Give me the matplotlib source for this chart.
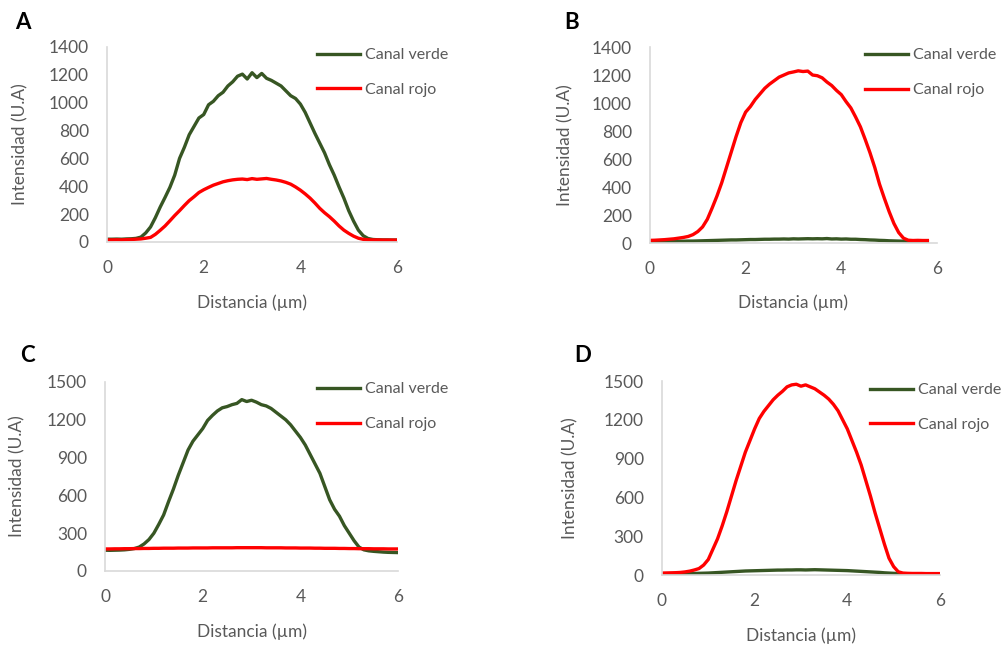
import numpy as np
import matplotlib
matplotlib.use("Agg")
import matplotlib.pyplot as plt

plt.rcParams["font.family"] = ["Lato", "DejaVu Sans"]

# distance axis (µm), sampled every 0.1
X_FULL = np.round(np.arange(0, 61) * 0.1, 1)
X_B = np.round(np.arange(0, 59) * 0.1, 1)

# panel A
a_verde = [20, 20, 21, 20, 22, 23, 26, 35, 65, 108,
           175, 251, 320, 392, 480, 600, 680, 770, 830, 890,
           915, 985, 1010, 1050, 1075, 1120, 1150, 1190, 1205, 1170,
           1215, 1180, 1210, 1175, 1160, 1140, 1120, 1085, 1050, 1030,
           990, 930, 855, 780, 710, 640, 555, 480, 395, 315,
           225, 150, 85, 45, 25, 18, 16, 15, 15, 14, 14]
a_rojo = [15, 15, 16, 15, 17, 18, 20, 22, 27, 33,
          55, 84, 115, 152, 190, 225, 262, 297, 325, 355,
          375, 392, 408, 420, 432, 440, 446, 450, 452, 448,
          455, 450, 453, 456, 450, 445, 438, 428, 415, 395,
          372, 345, 315, 280, 242, 210, 182, 150, 115, 85,
          62, 42, 27, 19, 16, 15, 15, 14, 14, 14, 14]

# panel B (profile ends at 5.8 µm)
b_verde = [10, 10, 11, 11, 12, 12, 13, 13, 14, 14,
           15, 16, 17, 18, 19, 20, 21, 22, 22, 23,
           24, 25, 25, 26, 27, 27, 28, 28, 29, 28,
           30, 29, 30, 31, 30, 31, 30, 32, 29, 30,
           28, 29, 27, 27, 25, 24, 22, 21, 19, 18,
           16, 15, 14, 13, 12, 12, 11, 11, 10]
b_rojo = [19, 20, 22, 24, 27, 30, 35, 40, 47, 60,
          82, 115, 170, 250, 335, 430, 540, 650, 760, 860,
          935, 975, 1025, 1065, 1105, 1135, 1160, 1185, 1200, 1215,
          1222, 1230, 1225, 1228, 1200, 1195, 1180, 1150, 1125, 1090,
          1060, 1010, 965, 900, 830, 740, 645, 540, 420, 320,
          225, 140, 75, 35, 20, 18, 19, 18, 18]

# panel C
c_verde = [165, 164, 165, 166, 168, 172, 178, 190, 215, 250,
           300, 370, 445, 550, 650, 760, 860, 960, 1030, 1080,
           1130, 1195, 1235, 1270, 1295, 1305, 1320, 1330, 1360, 1345,
           1355, 1340, 1320, 1310, 1290, 1260, 1230, 1200, 1160, 1110,
           1060, 1000, 925, 850, 775, 670, 565, 490, 435, 360,
           300, 240, 190, 168, 160, 156, 153, 150, 148, 147, 146]
c_rojo = [175, 175, 176, 176, 177, 177, 178, 178, 179, 179,
          180, 180, 181, 181, 181, 182, 182, 182, 183, 183,
          183, 183, 184, 184, 184, 184, 184, 185, 185, 185,
          185, 185, 185, 184, 184, 184, 184, 183, 183, 183,
          182, 182, 182, 181, 181, 180, 180, 180, 179, 179,
          178, 178, 177, 177, 177, 176, 176, 176, 175, 175, 175]

# panel D
d_verde = [8, 8, 9, 9, 10, 10, 11, 12, 13, 14,
           15, 17, 19, 21, 23, 25, 27, 29, 31, 32,
           33, 34, 35, 36, 37, 38, 38, 39, 39, 40,
           40, 39, 40, 41, 40, 39, 38, 37, 36, 35,
           34, 32, 30, 28, 26, 24, 22, 20, 17, 15,
           13, 11, 10, 9, 9, 8, 8, 8, 8, 8, 8]
d_rojo = [15, 16, 17, 18, 20, 24, 30, 39, 50, 77,
          120, 200, 280, 380, 490, 610, 730, 840, 950, 1040,
          1130, 1210, 1265, 1310, 1355, 1390, 1420, 1455, 1470, 1475,
          1460, 1470, 1455, 1440, 1415, 1390, 1360, 1320, 1270, 1200,
          1130, 1040, 950, 850, 730, 610, 480, 360, 240, 130,
          65, 25, 15, 13, 12, 12, 12, 11, 11, 11, 11]

PANELS = [
    # letter, x, verde, rojo, ymax, ystep, rect, legend anchor, ylabel x, xlabel y, letter pos
    ("A", X_FULL, a_verde, a_rojo, 1400, 200, [0.1062, 0.6254, 0.2877, 0.3019], (0.724, 0.995), -0.272, -0.267, (0.015, 0.965)),
    ("B", X_B, b_verde, b_rojo, 1400, 200, [0.6448, 0.6238, 0.2847, 0.3034], (0.749, 0.995), -0.268, -0.26, (0.56, 0.965)),
    ("C", X_FULL, c_verde, c_rojo, 1500, 300, [0.1042, 0.1161, 0.2907, 0.2926], (0.724, 1.0), -0.27, -0.28, (0.02, 0.45)),
    ("D", X_FULL, d_verde, d_rojo, 1500, 300, [0.6567, 0.1099, 0.2758, 0.3003], (0.748, 0.99), -0.302, -0.268, (0.57, 0.45)),
]

GREEN = "#375623"
RED = "#FF0000"
GREY = "#595959"
AXIS = "#D9D9D9"

fig = plt.figure(figsize=(10.08, 6.46), dpi=100)

for letter, x, verde, rojo, ymax, ystep, rect, leg, ylx, xly, lpos in PANELS:
    ax = fig.add_axes(rect)
    ax.plot(x, verde, color=GREEN, lw=2.4, label="Canal verde", solid_joinstyle="round")
    ax.plot(x, rojo, color=RED, lw=2.4, label="Canal rojo", solid_joinstyle="round")
    ax.set_xlim(0, 6)
    ax.set_ylim(0, ymax)
    ax.set_xticks([0, 2, 4, 6])
    ax.set_yticks(np.arange(0, ymax + 1, ystep))
    for s in ("top", "right"):
        ax.spines[s].set_visible(False)
    for s in ("left", "bottom"):
        ax.spines[s].set_color(AXIS)
        ax.spines[s].set_linewidth(1.2)
    ax.tick_params(length=0, labelsize=12.5, colors=GREY, pad=13)
    ax.set_ylabel("Intensidad (U.A)", fontsize=12.5, color=GREY)
    ax.set_xlabel("Distancia (µm)", fontsize=12.5, color=GREY)
    ax.yaxis.set_label_coords(ylx, 0.5)
    ax.xaxis.set_label_coords(0.5, xly)
    ax.legend(loc="upper left", bbox_to_anchor=leg, frameon=False, fontsize=11.5,
              handlelength=2.7, handletextpad=0.3, borderpad=0, borderaxespad=0,
              labelspacing=1.3, labelcolor=GREY)
    fig.text(lpos[0], lpos[1], letter, fontsize=16, fontweight="bold", ha="left", va="center")

fig.savefig("out.png", dpi=100)
